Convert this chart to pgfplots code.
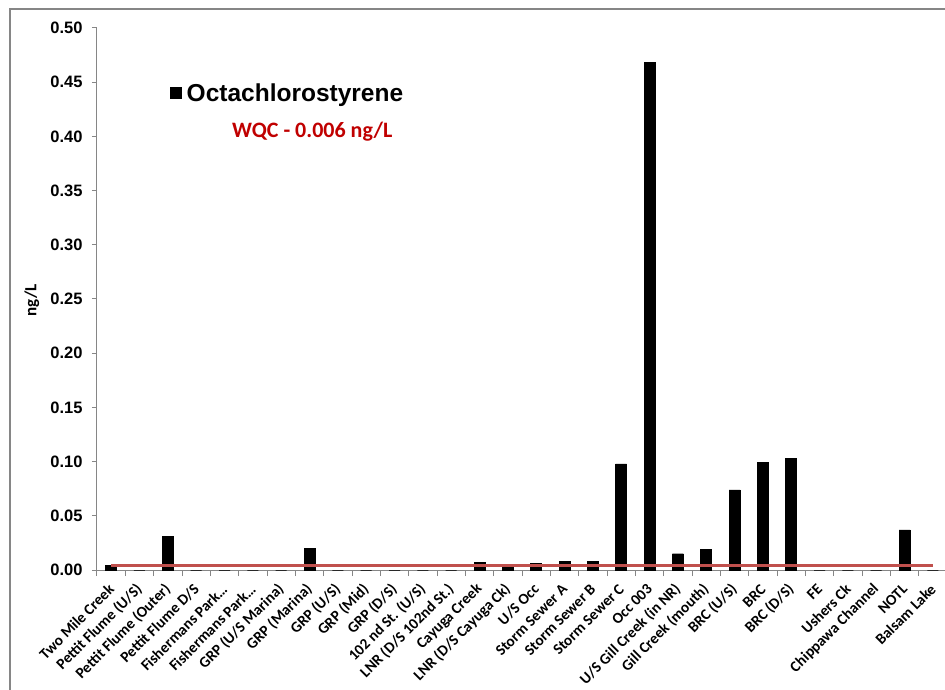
\documentclass[border=0pt]{standalone}
\usepackage{pgfplots}
\pgfplotsset{compat=1.18}
\usepackage{fontspec}
\setmainfont{Carlito}
\newfontfamily\arial{Liberation Sans}
\definecolor{axgray}{RGB}{134,134,134}
\definecolor{wqcline}{RGB}{192,80,77}
\definecolor{wqctext}{RGB}{192,0,0}
\begin{document}
\begin{tikzpicture}[x=1pt,y=1pt]
\path[use as bounding box] (0,0) rectangle (945,689);
\draw[axgray, line width=1.5pt] (10,-5) -- (10,680) -- (960,680);
\begin{axis}[
  at={(97pt,119pt)}, anchor=south west,
  scale only axis, width=850pt, height=542pt,
  xmin=0.5, xmax=30.5, ymin=0, ymax=0.5,
  axis x line*=bottom, axis y line*=left,
  axis line style={axgray, line width=1pt},
  tick align=outside,
  major tick length=5pt, minor tick length=6pt,
  ytick={0,0.05,0.10,0.15,0.20,0.25,0.30,0.35,0.40,0.45,0.50},
  ytick style={axgray, line width=1pt},
  yticklabel style={font=\arial\bfseries\fontsize{16.5}{18}\selectfont, xshift=-6pt},
  /pgf/number format/.cd, fixed, fixed zerofill, precision=2, assume math mode=true,
  /pgfplots/.cd,
  xtick={1,...,30},
  major x tick style={draw=none},
  minor xtick={0.5,1.5,...,30.5},
  minor x tick style={axgray, line width=1pt},
  xticklabels={Two Mile Creek, Pettit Flume (U/S), Pettit Flume (Outer), Pettit Flume D/S, {Fishermans Park…}, {Fishermans Park…}, GRP (U/S Marina), GRP (Marina), GRP (U/S), GRP (Mid), GRP (D/S), 102 nd St. (U/S), LNR (D/S 102nd St.), Cayuga Creek, LNR (D/S Cayuga Ck), U/S Occ, Storm Sewer A, Storm Sewer B, Storm Sewer C, Occ 003, U/S Gill Creek (in NR), Gill Creek (mouth), BRC (U/S), BRC, BRC (D/S), FE, Ushers Ck, Chippawa Channel, NOTL, Balsam Lake},
  xticklabel style={font=\bfseries\fontsize{15.3}{17}\selectfont, xshift=1pt, yshift=-11pt, rotate=45, anchor=east, inner sep=1pt},
  ylabel={ng/L},
  every axis y label/.style={at={(axis description cs:-0.0765,0.498)}, rotate=90, anchor=center, font=\bfseries\fontsize{17}{19}\selectfont},
  legend style={at={(axis description cs:0.086,0.880)}, anchor=west, draw=none, fill=none, inner sep=0pt, font=\arial\bfseries\fontsize{24.5}{27}\selectfont, nodes={inner xsep=5pt}},
  clip=false,
]
\addplot[ybar, bar width=11pt, fill=black, draw=black,
  legend image code/.code={\fill[black] (0pt,-5.5pt) rectangle (11pt,5.5pt);}]
  coordinates {
  (1,0.004) (2,0) (3,0.031) (4,0) (5,0) (6,0) (7,0) (8,0.020) (9,0) (10,0)
  (11,0) (12,0) (13,0) (14,0.007) (15,0.003) (16,0.006) (17,0.008) (18,0.008) (19,0.098) (20,0.468)
  (21,0.015) (22,0.019) (23,0.074) (24,0.099) (25,0.103) (26,0) (27,0) (28,0) (29,0.037) (30,0)
  };
\addlegendentry{Octachlorostyrene}
\addplot[wqcline, line width=3pt, forget plot] coordinates {(1,0.0042) (30,0.0042)};
\node[anchor=west, inner sep=0pt, text=wqctext, font=\bfseries\fontsize{22}{24}\selectfont] at (axis description cs:0.1588,0.809) {WQC - 0.006 ng/L};
\end{axis}
\end{tikzpicture}
\end{document}
